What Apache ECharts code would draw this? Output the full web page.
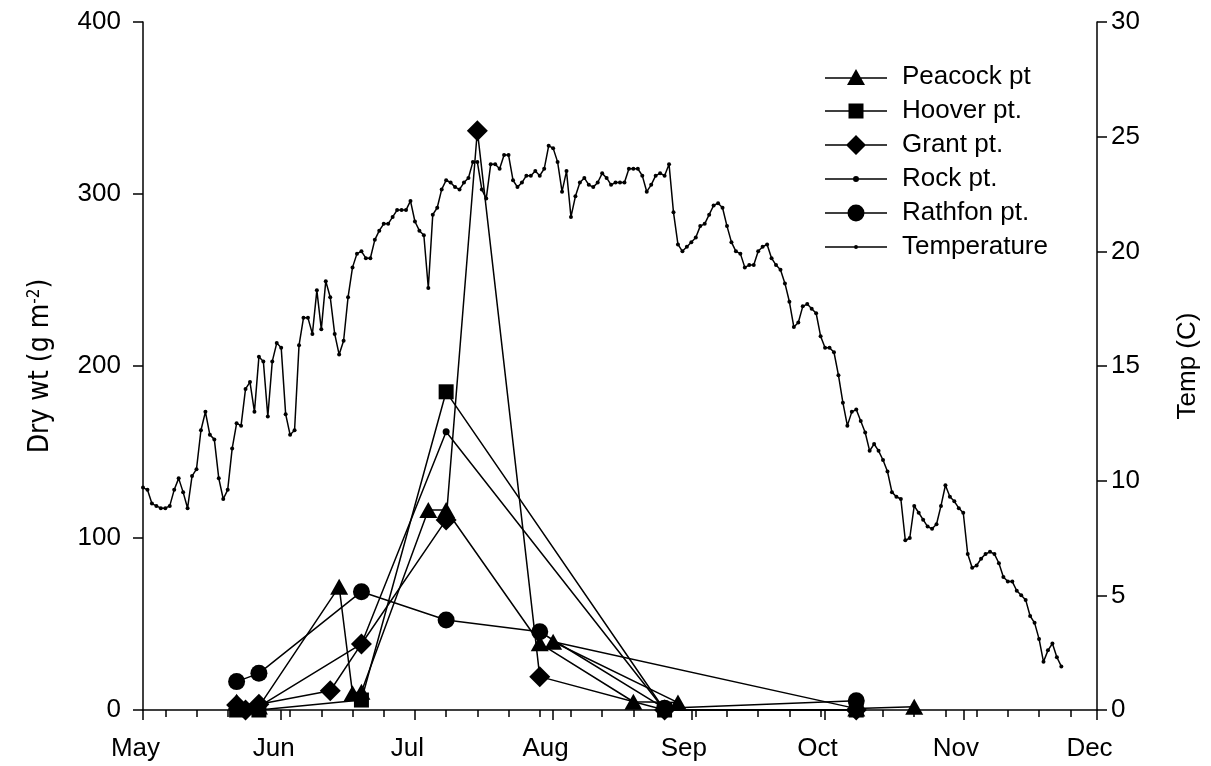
<!DOCTYPE html>
<html>
<head>
<meta charset="utf-8">
<script src="https://cdn.jsdelivr.net/npm/echarts@6/dist/echarts.min.js"></script>
<style>
html,body{margin:0;padding:0;background:#fff;}
#chart{width:1211px;height:766px;}
</style>
</head>
<body>
<div id="chart"></div>
<script>
// x values are days counted from 1 May
const monthDays   = [0, 31, 61, 92, 123, 153, 184, 214];
const monthLabels = ['May', 'Jun', 'Jul', 'Aug', 'Sep', 'Oct', 'Nov', 'Dec'];

const peacockDays = [21, 26, 44, 47, 49, 64, 68, 89, 110, 120, 92, 160, 173];
const peacockVals = [4.8, 2, 71.7, 9.7, 10.6, 116.3, 116.3, 38.8, 4.8, 4.3, 39.7, 0.8, 1.9];

const hooverDays = [21, 26, 49, 68, 117, 160];
const hooverVals = [0, 0, 5.8, 185, 0, 0];

const grantDays = [21, 23, 26, 42, 49, 68, 75, 89, 117, 160];
const grantVals = [2.9, 0, 3.3, 11.2, 38.4, 110.5, 336.8, 19.4, 0, 0];

const rockDays = [21, 26, 49, 68, 117, 160];
const rockVals = [0, 2, 38.4, 161.8, 0, 0];

const rathfonDays = [21, 26, 49, 68, 89, 117, 160];
const rathfonVals = [16.5, 21.3, 68.8, 52.3, 45.5, 1, 5.4];

// daily water temperature (C), first value on 1 May
const tempStartDay = 0;
const tempVals = [
 9.7, 9.6, 9.0, 8.9, 8.8, 8.8, 8.9, 9.6, 10.1, 9.5,
 8.8, 10.2, 10.5, 12.2, 13.0, 12.0, 11.8, 10.1, 9.2, 9.6,
 11.4, 12.5, 12.4, 14.0, 14.3, 13.0, 15.4, 15.2, 12.8, 15.2,
 16.0, 15.8, 12.9, 12.0, 12.2, 15.9, 17.1, 17.1, 16.4, 18.3,
 16.6, 18.7, 18.0, 16.4, 15.5, 16.1, 18.0, 19.3, 19.9, 20.0,
 19.7, 19.7, 20.5, 20.9, 21.2, 21.2, 21.5, 21.8, 21.8, 21.8,
 22.2, 21.3, 20.9, 20.7, 18.4, 21.6, 21.9, 22.7, 23.1, 23.0,
 22.8, 22.7, 23.0, 23.2, 23.9, 23.9, 22.7, 22.3, 23.8, 23.8,
 23.6, 24.2, 24.2, 23.1, 22.8, 23.0, 23.3, 23.3, 23.5, 23.3,
 23.6, 24.6, 24.5, 23.9, 22.6, 23.5, 21.5, 22.4, 23.0, 23.2,
 22.9, 22.8, 23.0, 23.4, 23.2, 22.9, 23.0, 23.0, 23.0, 23.6,
 23.6, 23.6, 23.3, 22.6, 22.9, 23.3, 23.4, 23.3, 23.8, 21.7,
 20.3, 20.0, 20.2, 20.4, 20.6, 21.1, 21.2, 21.6, 22.0, 22.1,
 21.9, 21.1, 20.4, 20.0, 19.9, 19.3, 19.4, 19.4, 20.0, 20.2,
 20.3, 19.7, 19.4, 19.2, 18.6, 17.8, 16.7, 16.9, 17.6, 17.7,
 17.5, 17.3, 16.3, 15.8, 15.8, 15.6, 14.6, 13.4, 12.4, 13.0,
 13.1, 12.6, 12.1, 11.3, 11.6, 11.3, 10.9, 10.4, 9.5, 9.3,
 9.2, 7.4, 7.5, 8.9, 8.6, 8.3, 8.0, 7.9, 8.1, 8.9,
 9.8, 9.3, 9.1, 8.8, 8.6, 6.8, 6.2, 6.3, 6.6, 6.8,
 6.9, 6.8, 6.4, 5.8, 5.6, 5.6, 5.2, 5.0, 4.8, 4.1,
 3.8, 3.1, 2.1, 2.6, 2.9, 2.3, 1.9
];

const weekTicks = [];
for (let d = 5; d <= 214; d += 7) weekTicks.push(d);

function pairs(xs, ys) { return xs.map((x, i) => [x, ys[i]]); }
const tempData = tempVals.map((t, i) => [tempStartDay + i, t]);

const FONT = "'Liberation Sans', Arial, sans-serif";
const NARROW = "'DejaVu Sans Condensed', 'Liberation Sans Narrow', 'Liberation Sans', sans-serif";
const BLACK = '#000';

function lineSeries(name, data, symbol, size) {
  return {
    name: name, type: 'line', data: data,
    xAxisIndex: 0, yAxisIndex: 0,
    symbol: symbol, symbolSize: size, showSymbol: true,
    lineStyle: { color: BLACK, width: 1.5 },
    itemStyle: { color: BLACK },
    emphasis: { disabled: true },
    z: 3
  };
}

const chart = echarts.init(document.getElementById('chart'), null, { renderer: 'canvas' });
const option = {
  animation: false,
  backgroundColor: '#fff',
  textStyle: { fontFamily: FONT, color: BLACK },
  grid: { left: 143, right: 114, top: 22, bottom: 56, containLabel: false },
  legend: {
    orient: 'vertical', left: 820, top: 59,
    itemWidth: 62, itemHeight: 22, itemGap: 8,
    selectedMode: false,
    textStyle: { fontSize: 26, fontFamily: FONT, color: BLACK, lineHeight: 26, padding: [0, 0, 0, 10] },
    data: [
      { name: 'Peacock pt', icon: 'path://M0,8.25h62v1.5H0z M22,16 L31,0 L40,16z' },
      { name: 'Hoover pt.', icon: 'path://M0,6.75h62v1.5H0z M23.5,0h15v15h-15z' },
      { name: 'Grant pt.', icon: 'path://M0,9.25h62v1.5H0z M31,0 L41,10 L31,20 L21,10z' },
      { name: 'Rock pt.', icon: 'path://M0,2.25h62v1.5H0z M28,3 a3,3 0 1,1 6,0 a3,3 0 1,1 -6,0z' },
      { name: 'Rathfon pt.', icon: 'path://M0,7.75h62v1.5H0z M22.5,8.5 a8.5,8.5 0 1,1 17,0 a8.5,8.5 0 1,1 -17,0z' },
      { name: 'Temperature', icon: 'path://M0,1.25h62v1.5H0z M29,2 a2,2 0 1,1 4,0 a2,2 0 1,1 -4,0z' }
    ]
  },
  xAxis: [
    {
      type: 'value', min: 0, max: 214, position: 'bottom',
      axisLine: { show: true, onZero: false, lineStyle: { color: BLACK, width: 1.5 } },
      axisTick: { show: true, inside: false, length: 10, customValues: monthDays, lineStyle: { color: BLACK, width: 1.5 } },
      axisLabel: {
        show: true, customValues: monthDays, margin: 26, fontSize: 26, color: BLACK, fontFamily: FONT,
        padding: [0, 15, 0, 0],
        formatter: function (v) { const i = monthDays.indexOf(v); return i >= 0 ? monthLabels[i] : ''; }
      },
      splitLine: { show: false }
    },
    {
      type: 'value', min: 0, max: 214, position: 'bottom',
      axisLine: { show: false, onZero: false },
      axisTick: { show: true, inside: false, length: 7, customValues: weekTicks, lineStyle: { color: BLACK, width: 1.5 } },
      axisLabel: { show: false },
      splitLine: { show: false }
    }
  ],
  yAxis: [
    {
      type: 'value', min: 0, max: 400, interval: 100, position: 'left',
      name: '{a|Dry wt (g m}{s|-2}{a|)}',
      nameLocation: 'middle', nameRotate: 90, nameGap: 88,
      nameTextStyle: {
        rich: {
          a: { fontSize: 28, fontFamily: NARROW, color: BLACK },
          s: { fontSize: 17, fontFamily: NARROW, color: BLACK, verticalAlign: 'top', padding: [0, 0, 12, 0] }
        }
      },
      axisLine: { show: true, onZero: false, lineStyle: { color: BLACK, width: 1.5 } },
      axisTick: { show: true, inside: false, length: 10, lineStyle: { color: BLACK, width: 1.5 } },
      axisLabel: { fontSize: 26, color: BLACK, margin: 22, fontFamily: FONT },
      splitLine: { show: false }
    },
    {
      type: 'value', min: 0, max: 30, interval: 5, position: 'right',
      name: 'Temp (C)',
      nameLocation: 'middle', nameRotate: 90, nameGap: 78,
      nameTextStyle: { fontSize: 26, color: BLACK, fontFamily: FONT },
      axisLine: { show: true, onZero: false, lineStyle: { color: BLACK, width: 1.5 } },
      axisTick: { show: true, inside: false, length: 10, lineStyle: { color: BLACK, width: 1.5 } },
      axisLabel: { fontSize: 26, color: BLACK, margin: 14, fontFamily: FONT },
      splitLine: { show: false }
    }
  ],
  series: [
    lineSeries('Peacock pt', pairs(peacockDays, peacockVals), 'triangle', [18, 16]),
    lineSeries('Hoover pt.', pairs(hooverDays, hooverVals), 'rect', 15),
    lineSeries('Grant pt.', pairs(grantDays, grantVals), 'diamond', 21),
    lineSeries('Rock pt.', pairs(rockDays, rockVals), 'circle', 7),
    lineSeries('Rathfon pt.', pairs(rathfonDays, rathfonVals), 'circle', 17),
    {
      name: 'Temperature', type: 'line', data: tempData,
      xAxisIndex: 0, yAxisIndex: 1,
      symbol: 'circle', symbolSize: 4, showSymbol: true, showAllSymbol: true,
      lineStyle: { color: BLACK, width: 1.5 },
      itemStyle: { color: BLACK },
      emphasis: { disabled: true },
      z: 2
    }
  ]
};
chart.setOption(option);
</script>
</body>
</html>
